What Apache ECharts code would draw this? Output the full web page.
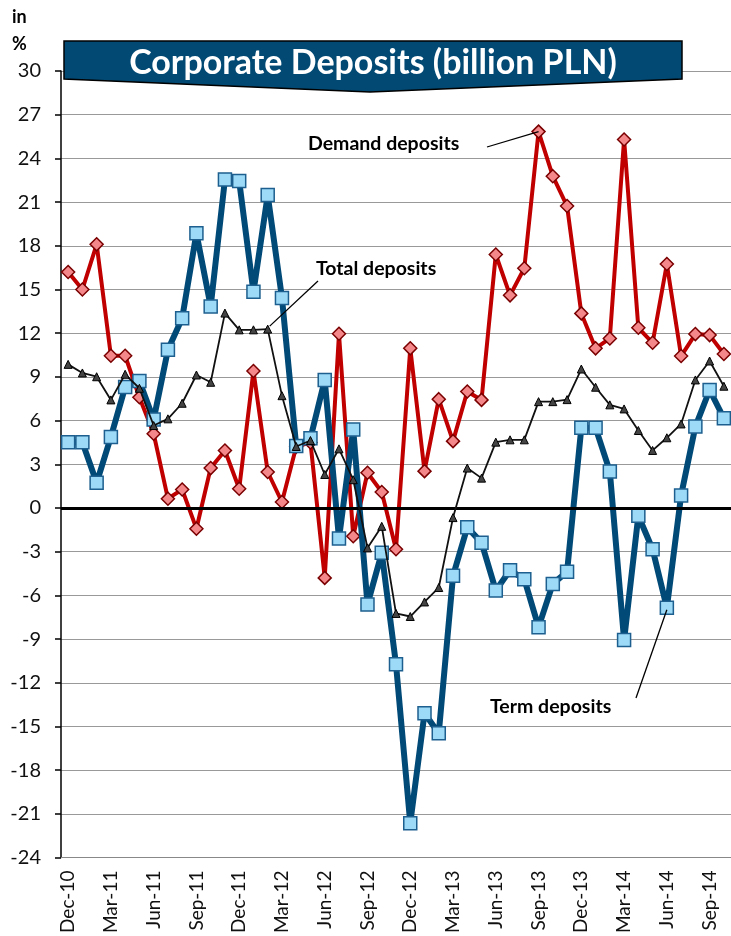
<!DOCTYPE html>
<html>
<head>
<meta charset="utf-8">
<script src="https://cdn.jsdelivr.net/npm/echarts@6/dist/echarts.min.js"></script>
<style>
  html, body { margin: 0; padding: 0; background: #fff; }
  #main { width: 731px; height: 936px; }
</style>
</head>
<body>
<div id="main"></div>
<script>
// months Dec-10 .. Oct-14
var months = ['Dec-10','Jan-11','Feb-11','Mar-11','Apr-11','May-11','Jun-11','Jul-11','Aug-11','Sep-11','Oct-11','Nov-11',
  'Dec-11','Jan-12','Feb-12','Mar-12','Apr-12','May-12','Jun-12','Jul-12','Aug-12','Sep-12','Oct-12','Nov-12',
  'Dec-12','Jan-13','Feb-13','Mar-13','Apr-13','May-13','Jun-13','Jul-13','Aug-13','Sep-13','Oct-13','Nov-13',
  'Dec-13','Jan-14','Feb-14','Mar-14','Apr-14','May-14','Jun-14','Jul-14','Aug-14','Sep-14','Oct-14'];

var demandDeposits = [16.2, 15.0, 18.1, 10.45, 10.45, 7.6, 5.1, 0.64, 1.27, -1.42, 2.74, 3.95,
  1.32, 9.4, 2.47, 0.41, 4.2, 4.5, -4.8, 11.96, -1.94, 2.42, 1.1, -2.83,
  10.96, 2.53, 7.47, 4.59, 8.0, 7.42, 17.4, 14.6, 16.46, 25.84, 22.78, 20.73,
  13.36, 10.96, 11.64, 25.3, 12.37, 11.34, 16.75, 10.43, 11.94, 11.87, 10.57];

var termDeposits = [4.52, 4.52, 1.73, 4.88, 8.3, 8.72, 6.07, 10.86, 13.03, 18.86, 13.84, 22.55,
  22.44, 14.84, 21.48, 14.42, 4.25, 4.79, 8.79, -2.1, 5.38, -6.62, -3.08, -10.73,
  -21.64, -14.1, -15.46, -4.66, -1.33, -2.38, -5.66, -4.27, -4.89, -8.18, -5.21, -4.38,
  5.5, 5.5, 2.51, -9.07, -0.53, -2.83, -6.85, 0.86, 5.59, 8.1, 6.16];

var totalDeposits = [9.86, 9.27, 9.01, 7.42, 9.18, 8.22, 5.66, 6.12, 7.19, 9.13, 8.63, 13.38,
  12.23, 12.23, 12.28, 7.71, 4.22, 4.63, 2.3, 4.06, 1.94, -2.74, -1.26, -7.24,
  -7.45, -6.45, -5.46, -0.66, 2.74, 2.05, 4.52, 4.68, 4.68, 7.3, 7.3, 7.44,
  9.54, 8.29, 7.08, 6.8, 5.32, 3.95, 4.82, 5.77, 8.79, 10.09, 8.36];

var yMin = -24, yMax = 30, yStep = 3;

var chart = echarts.init(document.getElementById('main'));
var font = 'Lato, "Liberation Sans", sans-serif';

var option = {
  animation: false,
  grid: { left: 61, right: 0, top: 71, bottom: 77 },
  xAxis: {
    type: 'category',
    data: months,
    boundaryGap: true,
    axisLine: { onZero: false, lineStyle: { color: '#888', width: 1 } },
    axisTick: { show: false },
    axisLabel: {
      interval: 2,
      rotate: 90,
      margin: 13,
      fontSize: 19,
      fontFamily: font,
      color: '#111'
    }
  },
  yAxis: {
    type: 'value',
    min: yMin,
    max: yMax,
    interval: yStep,
    axisLine: { show: true, lineStyle: { color: '#000', width: 1.5 } },
    axisTick: { show: true, length: 6, lineStyle: { color: '#000', width: 1.5 } },
    axisLabel: { fontSize: 20, fontFamily: font, color: '#111', margin: 20 },
    splitLine: { lineStyle: { color: '#999', width: 1.2 } }
  },
  series: [
    {
      name: 'Demand deposits',
      type: 'line',
      data: demandDeposits,
      showAllSymbol: true,
      symbol: 'diamond',
      symbolSize: 13,
      lineStyle: { color: '#c00000', width: 4 },
      itemStyle: { color: '#f4878a', borderColor: '#7a0000', borderWidth: 1.5 },
      z: 3,
      markLine: {
        silent: true,
        symbol: 'none',
        label: { show: false },
        lineStyle: { color: '#000', width: 3, type: 'solid' },
        data: [{ yAxis: 0 }]
      }
    },
    {
      name: 'Term deposits',
      type: 'line',
      data: termDeposits,
      showAllSymbol: true,
      symbol: 'rect',
      symbolSize: 13,
      lineStyle: { color: '#014a78', width: 6 },
      itemStyle: { color: '#9ddaf8', borderColor: '#1d5f8e', borderWidth: 1.5 },
      z: 4
    },
    {
      name: 'Total deposits',
      type: 'line',
      data: totalDeposits,
      showAllSymbol: true,
      symbol: 'triangle',
      symbolSize: 8,
      lineStyle: { color: '#111', width: 1.8 },
      itemStyle: { color: '#444', borderColor: '#000', borderWidth: 1 },
      z: 5
    }
  ]
};
chart.setOption(option);

// annotations and leader lines, anchored to data points through the axes
function pt(i, arr) { return chart.convertToPixel({ gridIndex: 0 }, [i, arr[i]]); }
var pDemand = pt(33, demandDeposits);
var pTotal = pt(14, totalDeposits);
var pTerm = pt(42, termDeposits);

chart.setOption({
  graphic: [
    {
      type: 'polygon',
      z: 100,
      shape: { points: [[64, 41], [682, 41], [682, 79], [370, 92], [64, 79]] },
      style: { fill: '#024a74', stroke: '#000', lineWidth: 1.5 }
    },
    {
      type: 'text',
      z: 101,
      x: 373, y: 63,
      style: { text: 'Corporate Deposits (billion PLN)', fill: '#fff', font: 'bold 34px ' + font, align: 'center', verticalAlign: 'middle' }
    },
    { type: 'text', left: 12, top: 8, style: { text: 'in', fill: '#000', font: 'bold 18px ' + font } },
    { type: 'text', left: 12, top: 35, style: { text: '%', fill: '#000', font: 'bold 18px ' + font } },
    { type: 'text', left: 308, top: 134, z: 50, style: { text: 'Demand deposits', fill: '#000', font: 'bold 19.5px ' + font } },
    { type: 'text', left: 316, top: 259, z: 50, style: { text: 'Total deposits', fill: '#000', font: 'bold 19.5px ' + font } },
    { type: 'text', left: 490, top: 697, z: 50, style: { text: 'Term deposits', fill: '#000', font: 'bold 19.5px ' + font } },
    { type: 'line', z: 50, shape: { x1: 487, y1: 147, x2: pDemand[0], y2: pDemand[1] }, style: { stroke: '#000', lineWidth: 1.3 } },
    { type: 'line', z: 50, shape: { x1: 318, y1: 281, x2: pTotal[0] + 2, y2: pTotal[1] - 3 }, style: { stroke: '#000', lineWidth: 1.3 } },
    { type: 'line', z: 50, shape: { x1: 636, y1: 698, x2: pTerm[0], y2: pTerm[1] + 2 }, style: { stroke: '#000', lineWidth: 1.3 } }
  ]
});
</script>
</body>
</html>
